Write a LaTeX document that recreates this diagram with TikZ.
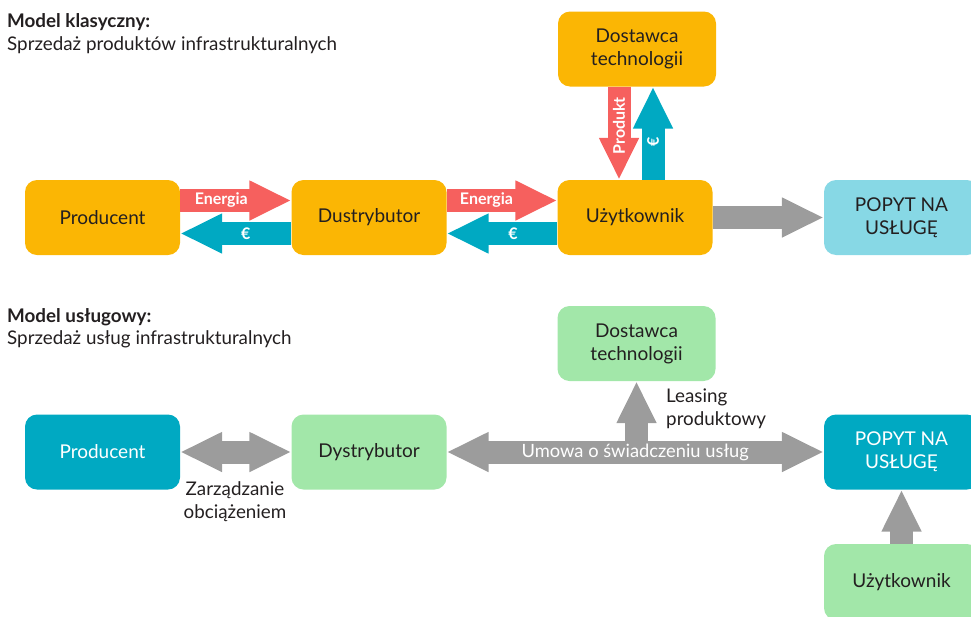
\documentclass[tikz,border=0pt]{standalone}
\usepackage{fontspec}
\setmainfont{Lato}
\usetikzlibrary{arrows.meta,calc}

\definecolor{boxorange}{HTML}{FBB604}
\definecolor{flowred}{HTML}{F6605E}
\definecolor{flowblue}{HTML}{00A9C2}
\definecolor{demandlight}{HTML}{87D8E5}
\definecolor{boxgreen}{HTML}{A2E7A9}
\definecolor{flowgray}{HTML}{9C9C9C}
\definecolor{textdark}{HTML}{231F20}

\begin{document}
\begin{tikzpicture}[x=1pt,y=-1pt,
  box/.style={rounded corners=12pt, minimum width=155pt, minimum height=75pt,
    align=center, inner sep=0pt, text=textdark,
    font=\fontsize{19}{23}\selectfont},
  heading/.style={anchor=base west, inner sep=0pt, text=textdark,
    font=\fontsize{18.8}{23}\selectfont},
  fat/.style={line width=23pt, -{Triangle[length=42pt,width=37pt]}},
  fatboth/.style={line width=23pt,
    {Triangle[length=42pt,width=37pt]}-{Triangle[length=42pt,width=37pt]}},
  flowlabel/.style={text=white, inner sep=0pt,
    font=\fontsize{16}{16}\selectfont\bfseries},
  plainlabel/.style={text=textdark, inner sep=0pt,
    font=\fontsize{18.8}{23}\selectfont},
]
\clip (0,0) rectangle (971,616);

% ---- classic model ----
\node[heading, font=\fontsize{18.8}{23}\selectfont\bfseries] (h1a) at (7,27) {Model klasyczny:};
\node[heading] (h1b) at (7,50) {Sprzedaż produktów infrastrukturalnych};

\node[box, fill=boxorange] (p1) at (102.5,217.5) {Producent};
\node[box, fill=boxorange] (d1) at (369,217.5) {Dustrybutor};
\node[box, fill=boxorange] (u1) at (635,217.5) {Użytkownik};
\node[box, fill=boxorange, minimum width=158pt] (t1) at (637,49) {Dostawca\\technologii};
\node[box, fill=demandlight] (q1) at (901.5,217.5) {POPYT NA\\USŁUGĘ};

\draw[fat, flowred] ($(p1.east)+(0,-17)$) -- node[flowlabel, pos=0.37] {Energia} ($(d1.west)+(0,-17)$);
\draw[fat, flowblue] ($(d1.west)+(0,16)$) -- node[flowlabel, pos=0.41] {€} ($(p1.east)+(0,16)$);
\draw[fat, flowred] ($(d1.east)+(0,-17)$) -- node[flowlabel, pos=0.36] {Energia} ($(u1.west)+(0,-17)$);
\draw[fat, flowblue] ($(u1.west)+(0,16)$) -- node[flowlabel, pos=0.40] {€} ($(d1.east)+(0,16)$);
\draw[fat, flowgray] (u1.east) -- (q1.west);

\draw[fat, flowred] ($(t1.south)+(-18,0)$) -- node[flowlabel, rotate=90, pos=0.42] {Produkt} ($(t1.south |- u1.north)+(-18,0)$);
\draw[fat, flowblue] ($(t1.south |- u1.north)+(16,0)$) -- node[flowlabel, rotate=90, pos=0.41] {€} ($(t1.south)+(16,0)$);

% ---- service model ----
\node[heading, font=\fontsize{18.8}{23}\selectfont\bfseries] (h2a) at (7,322) {Model usługowy:};
\node[heading] (h2b) at (7,344.5) {Sprzedaż usług infrastrukturalnych};

\node[box, fill=flowblue, text=white] (p2) at (102.5,452) {Producent};
\node[box, fill=boxgreen] (d2) at (369,452) {Dystrybutor};
\node[box, fill=boxgreen, minimum width=158pt] (t2) at (636.5,343.5) {Dostawca\\technologii};
\node[box, fill=flowblue, text=white] (q2) at (901.5,452) {POPYT NA\\USŁUGĘ};
\node[box, fill=boxgreen, minimum height=76pt] (u2) at (901.5,582) {Użytkownik};

\coordinate (split) at ($(d2.east)!0.5!(q2.west)$);
\draw[fat, flowgray] (split -| t2.south) -- (t2.south);
\draw[fatboth, flowgray] (d2.east) -- node[text=white, inner sep=0pt,
  font=\fontsize{18.3}{18.3}\selectfont] (umowa) {Umowa o świadczeniu usług} (q2.west);
\draw[fatboth, flowgray] (p2.east) -- (d2.west);
\draw[fat, flowgray] (u2.north) -- (q2.south);

\node[plainlabel, anchor=west, align=left] (leasing) at (666,409) {Leasing\\produktowy};
\node[plainlabel, align=center] (zarz) at (235,502) {Zarządzanie\\obciążeniem};
\end{tikzpicture}
\end{document}
